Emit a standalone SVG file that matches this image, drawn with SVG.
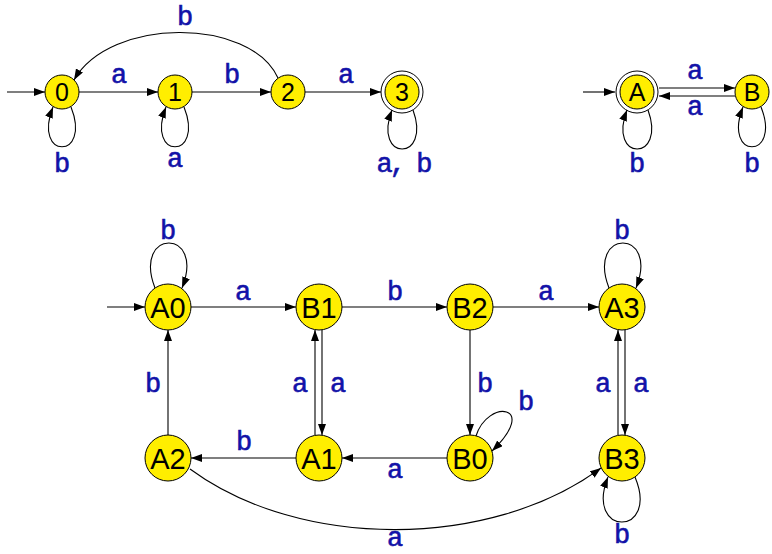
<svg xmlns="http://www.w3.org/2000/svg" width="772" height="554" viewBox="0 0 772 554">
<style>
.st{fill:#ffee00;stroke:#000;stroke-width:1}
.ring{fill:none;stroke:#000;stroke-width:1}
.nl{font-family:"Liberation Sans",Arial,sans-serif;font-size:29px;fill:#000;text-anchor:middle}
.ns{font-size:25px}
.e{fill:none;stroke:#000;stroke-width:1.1;marker-end:url(#ah)}
.lb{font-family:"Liberation Mono","Courier New",monospace;font-size:27px;fill:#1212a8;text-anchor:middle;stroke:#1212a8;stroke-width:0.6}
</style>
<defs>
<marker id="ah" markerUnits="userSpaceOnUse" markerWidth="11" markerHeight="8" refX="11" refY="4" orient="auto">
<path d="M0,0 L11,4 L0,8 z" fill="#000"/>
</marker>
</defs>
<rect width="772" height="554" fill="#fff"/>
<g id="edges">
<path class="e" d="M7,92 L45,92"/>
<path class="e" d="M79,92 L158,92"/>
<path class="e" d="M192,92 L271,92"/>
<path class="e" d="M305,92 L381,92"/>
<path class="e" d="M278,78 C250,17 110,17 74,80"/>
<path class="e" d="M71,107 C92,160 32,160 53,107"/>
<path class="e" d="M184,107 C205,160 145,160 166,107"/>
<path class="e" d="M413,110 C432,162 372,162 392,110"/>
<path class="e" d="M583,92 L615,92"/>
<path class="e" d="M659,88 L735,88"/>
<path class="e" d="M735,96 L659,96"/>
<path class="e" d="M648,110 C667,162 607,162 627,110"/>
<path class="e" d="M761,107 C782,160 722,160 743,107"/>
<path class="e" d="M107,307 L145,307"/>
<path class="e" d="M191,307 L296,307"/>
<path class="e" d="M342,307 L447,307"/>
<path class="e" d="M493,307 L599,307"/>
<path class="e" d="M168,435 L168,330"/>
<path class="e" d="M315,435 L315,330"/>
<path class="e" d="M322,330 L322,435"/>
<path class="e" d="M470,330 L470,435"/>
<path class="e" d="M618,435 L618,330"/>
<path class="e" d="M625,330 L625,435"/>
<path class="e" d="M296,458 L191,458"/>
<path class="e" d="M447,458 L342,458"/>
<path class="e" d="M190,469 C300,550 490,550 601,468"/>
<path class="e" d="M155,288 C132,228 206,228 182,288"/>
<path class="e" d="M609,288 C586,228 660,228 636,288"/>
<path class="e" d="M476,436 C488,398 540,405 492,451"/>
<path class="e" d="M635,477 C660,537 584,537 608,477"/>
</g>
<g id="labels">
<text class="lb" x="119" y="83">a</text>
<text class="lb" x="232" y="83">b</text>
<text class="lb" x="346" y="83">a</text>
<text class="lb" x="185" y="25">b</text>
<text class="lb" x="62" y="172">b</text>
<text class="lb" x="175" y="167">a</text>
<text class="lb" x="403" y="172" letter-spacing="-3">a, b</text>
<text class="lb" x="695" y="79">a</text>
<text class="lb" x="695" y="115">a</text>
<text class="lb" x="637" y="172">b</text>
<text class="lb" x="752" y="172">b</text>
<text class="lb" x="243" y="300">a</text>
<text class="lb" x="395" y="300">b</text>
<text class="lb" x="546" y="300">a</text>
<text class="lb" x="168" y="239">b</text>
<text class="lb" x="622" y="239">b</text>
<text class="lb" x="153" y="392">b</text>
<text class="lb" x="300" y="392">a</text>
<text class="lb" x="338" y="392">a</text>
<text class="lb" x="485" y="392">b</text>
<text class="lb" x="526" y="410">b</text>
<text class="lb" x="603" y="392">a</text>
<text class="lb" x="641" y="392">a</text>
<text class="lb" x="244" y="450">b</text>
<text class="lb" x="395" y="478">a</text>
<text class="lb" x="622" y="543">b</text>
<text class="lb" x="395" y="546">a</text>
</g>
<g id="n0"><circle class="st" cx="62" cy="92" r="17"/><text class="nl ns" x="62" y="101">0</text></g>
<g id="n1"><circle class="st" cx="175" cy="92" r="17"/><text class="nl ns" x="175" y="101">1</text></g>
<g id="n2"><circle class="st" cx="288" cy="92" r="17"/><text class="nl ns" x="288" y="101">2</text></g>
<g id="n3"><circle class="ring" cx="402" cy="92" r="21"/><circle class="st" cx="402" cy="92" r="17"/><text class="nl ns" x="402" y="101">3</text></g>
<g id="nA"><circle class="ring" cx="637" cy="92" r="21"/><circle class="st" cx="637" cy="92" r="17"/><text class="nl ns" x="637" y="101">A</text></g>
<g id="nB"><circle class="st" cx="752" cy="92" r="17"/><text class="nl ns" x="752" y="101">B</text></g>
<g id="A0"><circle class="st" cx="168" cy="307" r="23"/><text class="nl" x="168" y="317.5">A0</text></g>
<g id="B1"><circle class="st" cx="319" cy="307" r="23"/><text class="nl" x="319" y="317.5">B1</text></g>
<g id="B2"><circle class="st" cx="470" cy="307" r="23"/><text class="nl" x="470" y="317.5">B2</text></g>
<g id="A3"><circle class="st" cx="622" cy="307" r="23"/><text class="nl" x="622" y="317.5">A3</text></g>
<g id="A2"><circle class="st" cx="168" cy="458" r="23"/><text class="nl" x="168" y="468.5">A2</text></g>
<g id="A1"><circle class="st" cx="319" cy="458" r="23"/><text class="nl" x="319" y="468.5">A1</text></g>
<g id="B0"><circle class="st" cx="470" cy="458" r="23"/><text class="nl" x="470" y="468.5">B0</text></g>
<g id="B3"><circle class="st" cx="622" cy="458" r="23"/><text class="nl" x="622" y="468.5">B3</text></g>
</svg>
